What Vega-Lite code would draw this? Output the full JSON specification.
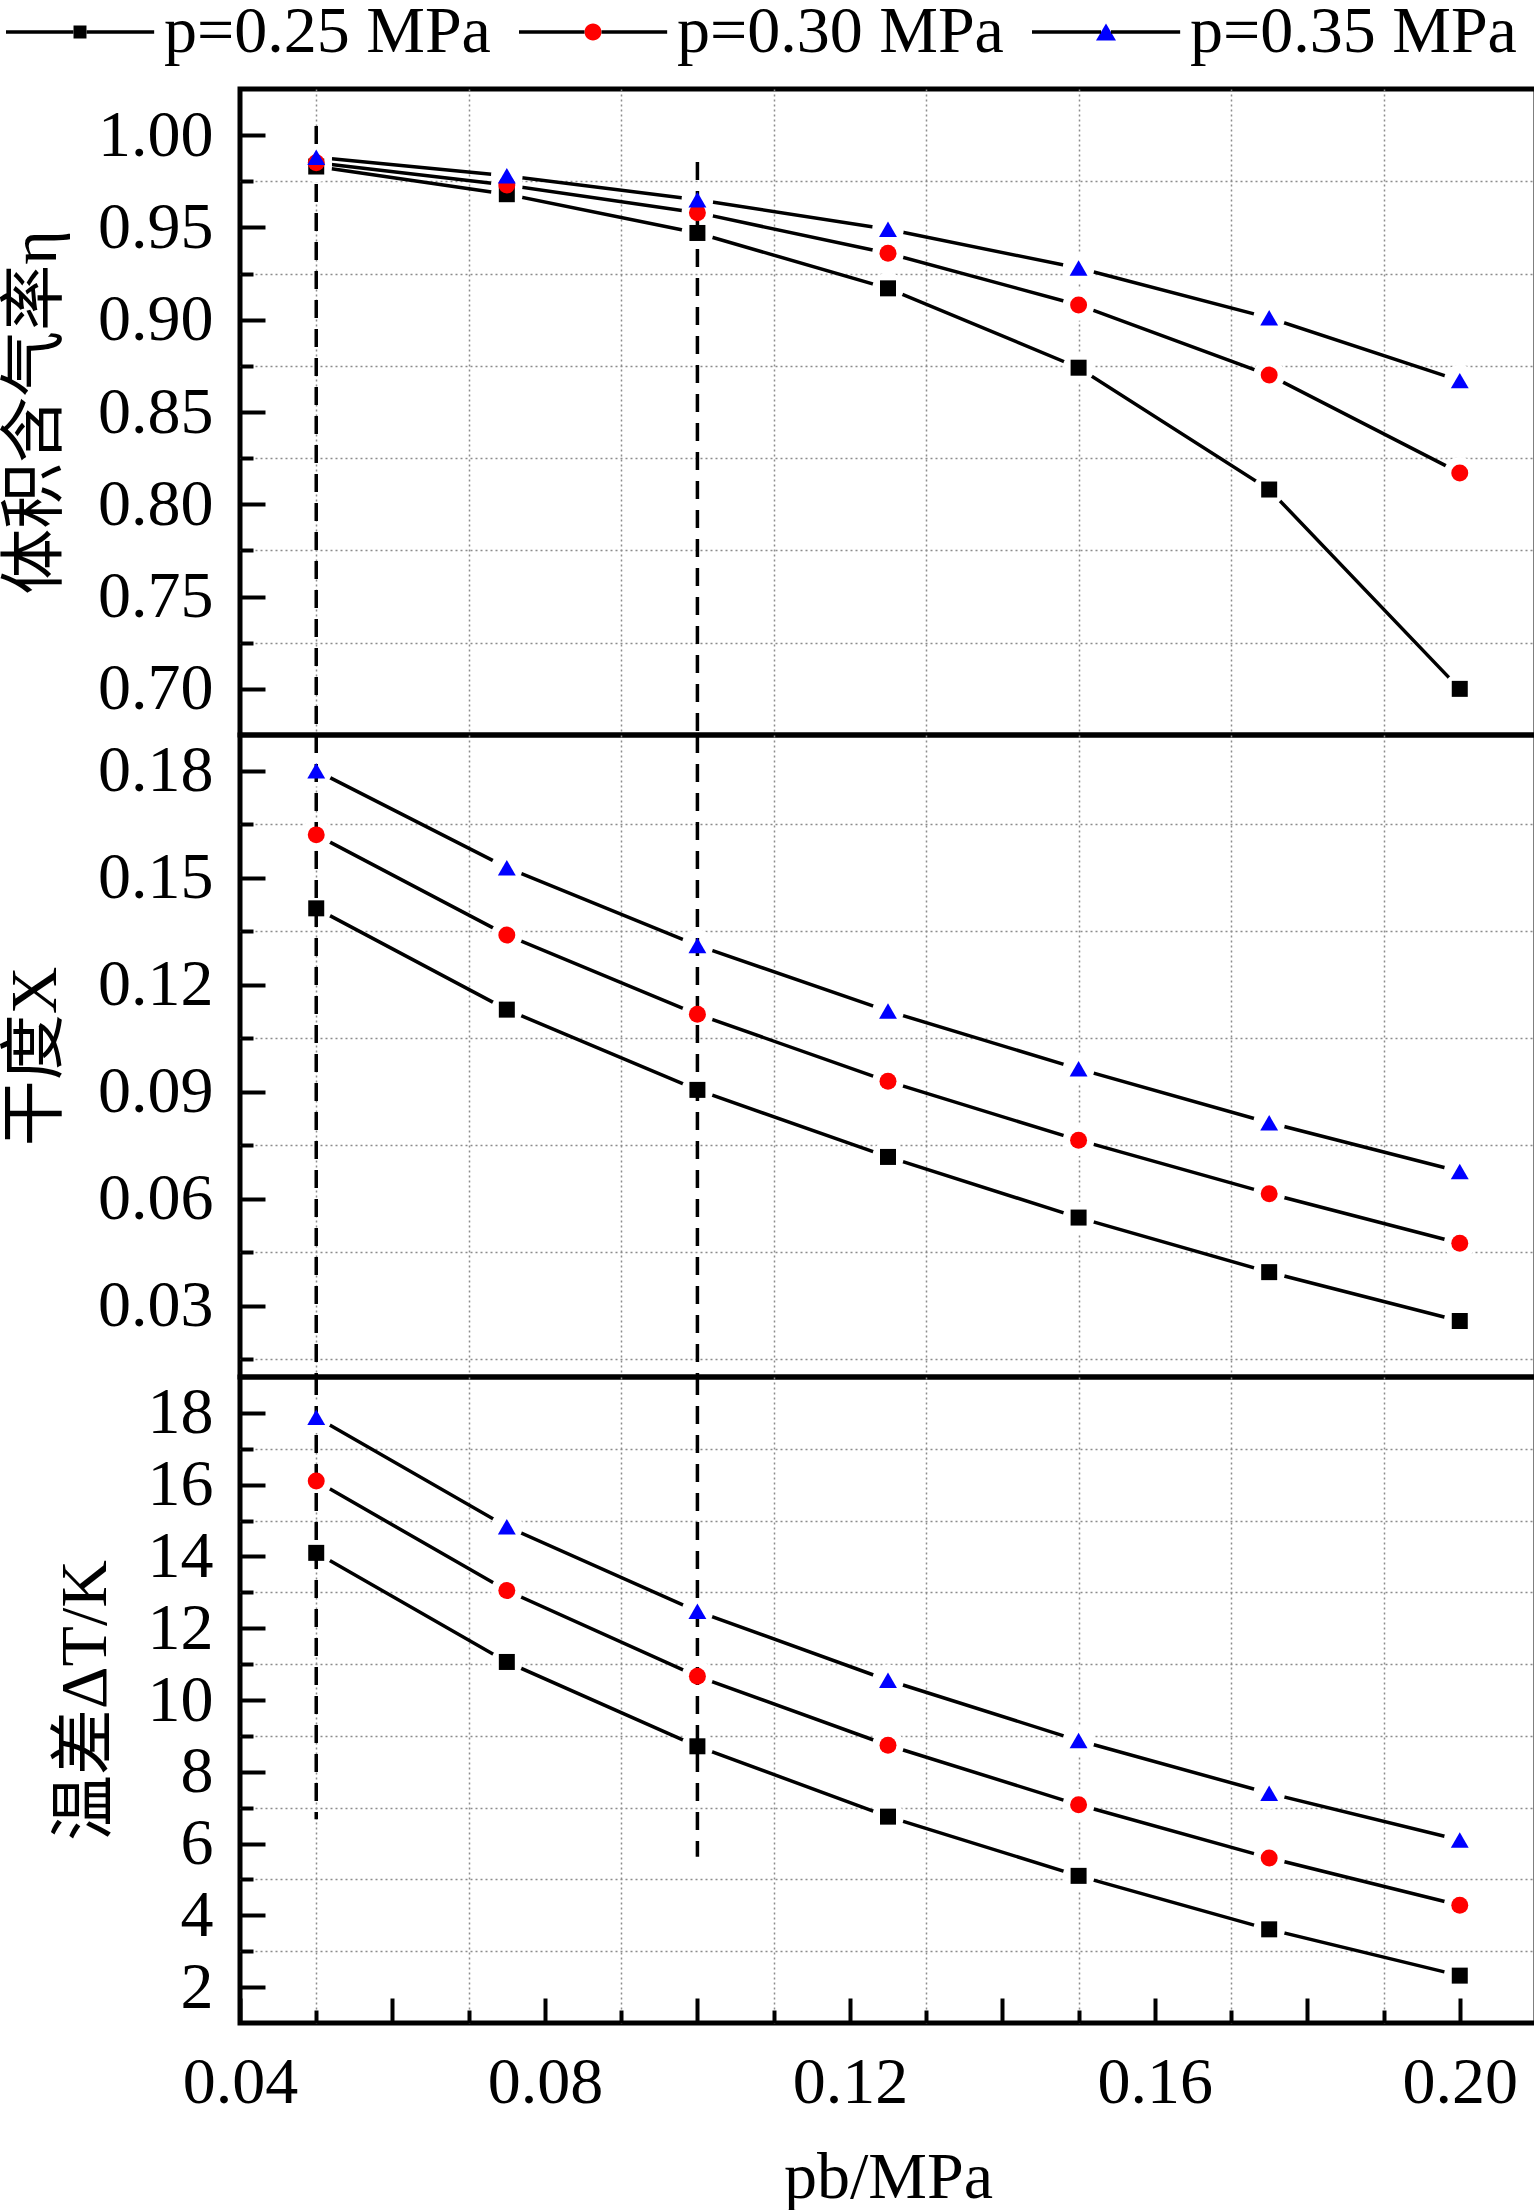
{
  "$schema": "https://vega.github.io/schema/vega-lite/v6.json",
  "padding": 0,
  "background": "white",
  "bounds": "flush",
  "spacing": 0,
  "datasets": {
    "points": [
      {"pb": 0.05, "series": "p=0.25 MPa", "eta": 0.983, "X": 0.1414, "dT": 14.1},
      {"pb": 0.075, "series": "p=0.25 MPa", "eta": 0.968, "X": 0.113, "dT": 11.06},
      {"pb": 0.1, "series": "p=0.25 MPa", "eta": 0.947, "X": 0.0905, "dT": 8.71},
      {"pb": 0.125, "series": "p=0.25 MPa", "eta": 0.917, "X": 0.0717, "dT": 6.75},
      {"pb": 0.15, "series": "p=0.25 MPa", "eta": 0.874, "X": 0.0547, "dT": 5.1},
      {"pb": 0.175, "series": "p=0.25 MPa", "eta": 0.808, "X": 0.0394, "dT": 3.61},
      {"pb": 0.2, "series": "p=0.25 MPa", "eta": 0.7, "X": 0.0257, "dT": 2.32},
      {"pb": 0.05, "series": "p=0.30 MPa", "eta": 0.985, "X": 0.162, "dT": 16.1},
      {"pb": 0.075, "series": "p=0.30 MPa", "eta": 0.973, "X": 0.1339, "dT": 13.05},
      {"pb": 0.1, "series": "p=0.30 MPa", "eta": 0.958, "X": 0.1117, "dT": 10.66},
      {"pb": 0.125, "series": "p=0.30 MPa", "eta": 0.936, "X": 0.0929, "dT": 8.74},
      {"pb": 0.15, "series": "p=0.30 MPa", "eta": 0.908, "X": 0.0764, "dT": 7.08},
      {"pb": 0.175, "series": "p=0.30 MPa", "eta": 0.87, "X": 0.0614, "dT": 5.6},
      {"pb": 0.2, "series": "p=0.30 MPa", "eta": 0.817, "X": 0.0475, "dT": 4.28},
      {"pb": 0.05, "series": "p=0.35 MPa", "eta": 0.988, "X": 0.18, "dT": 17.88},
      {"pb": 0.075, "series": "p=0.35 MPa", "eta": 0.978, "X": 0.1528, "dT": 14.83},
      {"pb": 0.1, "series": "p=0.35 MPa", "eta": 0.965, "X": 0.131, "dT": 12.47},
      {"pb": 0.125, "series": "p=0.35 MPa", "eta": 0.949, "X": 0.1126, "dT": 10.55},
      {"pb": 0.15, "series": "p=0.35 MPa", "eta": 0.928, "X": 0.0964, "dT": 8.87},
      {"pb": 0.175, "series": "p=0.35 MPa", "eta": 0.901, "X": 0.0813, "dT": 7.4},
      {"pb": 0.2, "series": "p=0.35 MPa", "eta": 0.867, "X": 0.0676, "dT": 6.1}
    ],
    "rules1": [
      {"pb": 0.05, "top": 1.005, "bottom": 0.675},
      {"pb": 0.1, "top": 0.9855, "bottom": 0.675}
    ],
    "rules2": [
      {"pb": 0.05},
      {"pb": 0.1}
    ],
    "rules3": [
      {"pb": 0.05, "top": 19, "bottom": 6.68},
      {"pb": 0.1, "top": 19, "bottom": 5.63}
    ]
  },
  "vconcat": [
    {
      "width": 1296,
      "height": 646,
      "data": {"name": "points"},
      "layer": [
        {
          "mark": {"type": "line", "strokeWidth": 3.5},
          "encoding": {
            "x": {"field": "pb", "type": "quantitative", "scale": {"domain": [0.04, 0.21], "nice": false, "zero": false}, "axis": null},
            "y": {
              "field": "eta", "type": "quantitative",
              "scale": {"domain": [0.675, 1.025], "nice": false, "zero": false},
              "axis": {"orient": "left", "values": [0.7, 0.75, 0.8, 0.85, 0.9, 0.95, 1.0], "format": ".2f", "tickSize": -25, "labelPadding": 52, "title": "体积含气率η", "titlePadding": 28}
            },
            "stroke": {
              "field": "series", "type": "nominal",
              "scale": {"range": ["black", "black", "black"]},
              "legend": {
                "orient": "none", "legendX": -234, "legendY": -89, "direction": "horizontal",
                "title": null, "symbolSize": 20736, "symbolStrokeWidth": 3.5,
                "labelOffset": 10, "columnPadding": 28, "clipHeight": 64,
                "encode": {"symbols": {"update": {
                  "opacity": {"value": 1},
                  "stroke": {"value": "black"},
                  "strokeWidth": {"value": 3.5},
                  "strokeDash": {"value": [200, 70]},
                  "strokeDashOffset": {"value": 200},
                  "fill": {"signal": "datum.value === 'p=0.25 MPa' ? '#000000' : datum.value === 'p=0.30 MPa' ? '#ff0000' : '#0000ff'"},
                  "shape": {"signal": "datum.value === 'p=0.25 MPa' ? 'M-0.09,0L0.396,0L-0.09,0L-1.03,0M0.09,0L-0.396,0L0.09,0L1.03,0M-0.09,-0.09L0.09,-0.09L0.09,0.09L-0.09,0.09Z' : datum.value === 'p=0.30 MPa' ? 'M-0.118,0L0.368,0L-0.118,0L-1.03,0M0.118,0L-0.368,0L0.118,0L1.03,0M0.118,0A0.118,0.118,0,1,1,-0.118,0A0.118,0.118,0,1,1,0.118,0Z' : 'M-0.069,0L0.417,0L-0.069,0L-1.03,0M0.069,0L-0.417,0L0.069,0L1.03,0M0,-0.118L0.139,0.118L-0.139,0.118Z'"}
                }}}
              }
            }
          }
        },
        {
          "mark": {"type": "point", "filled": true, "shape": "circle", "size": 1000, "color": "white", "opacity": 1},
          "encoding": {
            "x": {
              "field": "pb", "type": "quantitative", "scale": {"domain": [0.04, 0.21], "nice": false, "zero": false},
              "axis": {"orient": "bottom", "values": [0.05, 0.07, 0.09, 0.11, 0.13, 0.15, 0.17, 0.19], "grid": true, "ticks": false, "labels": false, "title": null}
            },
            "y": {
              "field": "eta", "type": "quantitative", "scale": {"domain": [0.675, 1.025], "nice": false, "zero": false},
              "axis": {"orient": "left", "values": [0.725, 0.775, 0.825, 0.875, 0.925, 0.975], "grid": true, "labels": false, "tickSize": -13, "title": null}
            }
          }
        },
        {
          "data": {"name": "rules1"},
          "mark": {"type": "rule", "strokeDash": [18, 11], "strokeWidth": 3.5, "color": "black"},
          "encoding": {
            "x": {"field": "pb", "type": "quantitative", "scale": {"domain": [0.04, 0.21], "nice": false, "zero": false}, "axis": null},
            "y": {"field": "top", "type": "quantitative", "scale": {"domain": [0.675, 1.025], "nice": false, "zero": false}, "axis": null},
            "y2": {"field": "bottom"}
          }
        },
        {
          "mark": {"type": "point", "filled": true, "opacity": 1, "strokeWidth": 0},
          "encoding": {
            "x": {"field": "pb", "type": "quantitative", "scale": {"domain": [0.04, 0.21], "nice": false, "zero": false}, "axis": null},
            "y": {"field": "eta", "type": "quantitative", "scale": {"domain": [0.675, 1.025], "nice": false, "zero": false}, "axis": null},
            "fill": {
              "field": "series", "type": "nominal",
              "scale": {"domain": ["p=0.25 MPa", "p=0.30 MPa", "p=0.35 MPa"], "range": ["black", "#ff0000", "#0000ff"]},
              "legend": {
                "orient": "none", "legendX": -234, "legendY": -89, "direction": "horizontal",
                "title": null, "symbolSize": 20736, "symbolStrokeWidth": 3.5,
                "labelOffset": 10, "columnPadding": 28, "clipHeight": 64,
                "encode": {"symbols": {"update": {
                  "opacity": {"value": 1},
                  "stroke": {"value": "black"},
                  "strokeWidth": {"value": 3.5},
                  "strokeDash": {"value": [200, 70]},
                  "strokeDashOffset": {"value": 200},
                  "fill": {"signal": "datum.value === 'p=0.25 MPa' ? '#000000' : datum.value === 'p=0.30 MPa' ? '#ff0000' : '#0000ff'"},
                  "shape": {"signal": "datum.value === 'p=0.25 MPa' ? 'M-0.09,0L0.396,0L-0.09,0L-1.03,0M0.09,0L-0.396,0L0.09,0L1.03,0M-0.09,-0.09L0.09,-0.09L0.09,0.09L-0.09,0.09Z' : datum.value === 'p=0.30 MPa' ? 'M-0.118,0L0.368,0L-0.118,0L-1.03,0M0.118,0L-0.368,0L0.118,0L1.03,0M0.118,0A0.118,0.118,0,1,1,-0.118,0A0.118,0.118,0,1,1,0.118,0Z' : 'M-0.069,0L0.417,0L-0.069,0L-1.03,0M0.069,0L-0.417,0L0.069,0L1.03,0M0,-0.118L0.139,0.118L-0.139,0.118Z'"}
                }}}
              }
            },
            "shape": {
              "field": "series", "type": "nominal",
              "scale": {"domain": ["p=0.25 MPa", "p=0.30 MPa", "p=0.35 MPa"], "range": ["square", "circle", "triangle-up"]},
              "legend": {
                "orient": "none", "legendX": -234, "legendY": -89, "direction": "horizontal",
                "title": null, "symbolSize": 20736, "symbolStrokeWidth": 3.5,
                "labelOffset": 10, "columnPadding": 28, "clipHeight": 64
              }
            },
            "size": {
              "field": "series", "type": "nominal",
              "scale": {"domain": ["p=0.25 MPa", "p=0.30 MPa", "p=0.35 MPa"], "range": [256, 320, 560]},
              "legend": null
            }
          }
        }
      ],
      "resolve": {"axis": {"x": "independent", "y": "independent"}}
    },
    {
      "width": 1296,
      "height": 642,
      "data": {"name": "points"},
      "layer": [
        {
          "mark": {"type": "line", "strokeWidth": 3.5},
          "encoding": {
            "x": {"field": "pb", "type": "quantitative", "scale": {"domain": [0.04, 0.21], "nice": false, "zero": false}, "axis": null},
            "y": {
              "field": "X", "type": "quantitative",
              "scale": {"domain": [0.01, 0.19], "nice": false, "zero": false},
              "axis": {"orient": "left", "values": [0.03, 0.06, 0.09, 0.12, 0.15, 0.18], "format": ".2f", "tickSize": -25, "labelPadding": 52, "title": "干度X", "titlePadding": 28}
            },
            "stroke": {"field": "series", "type": "nominal", "scale": {"range": ["black", "black", "black"]}, "legend": null}
          }
        },
        {
          "mark": {"type": "point", "filled": true, "shape": "circle", "size": 1000, "color": "white", "opacity": 1},
          "encoding": {
            "x": {
              "field": "pb", "type": "quantitative", "scale": {"domain": [0.04, 0.21], "nice": false, "zero": false},
              "axis": {"orient": "bottom", "values": [0.05, 0.07, 0.09, 0.11, 0.13, 0.15, 0.17, 0.19], "grid": true, "ticks": false, "labels": false, "title": null}
            },
            "y": {
              "field": "X", "type": "quantitative", "scale": {"domain": [0.01, 0.19], "nice": false, "zero": false},
              "axis": {"orient": "left", "values": [0.015, 0.045, 0.075, 0.105, 0.135, 0.165], "grid": true, "labels": false, "tickSize": -13, "title": null}
            }
          }
        },
        {
          "data": {"name": "rules2"},
          "mark": {"type": "rule", "strokeDash": [18, 11], "strokeWidth": 3.5, "color": "black"},
          "encoding": {
            "x": {"field": "pb", "type": "quantitative", "scale": {"domain": [0.04, 0.21], "nice": false, "zero": false}, "axis": null}
          }
        },
        {
          "mark": {"type": "point", "filled": true, "opacity": 1, "strokeWidth": 0},
          "encoding": {
            "x": {"field": "pb", "type": "quantitative", "scale": {"domain": [0.04, 0.21], "nice": false, "zero": false}, "axis": null},
            "y": {"field": "X", "type": "quantitative", "scale": {"domain": [0.01, 0.19], "nice": false, "zero": false}, "axis": null},
            "fill": {"field": "series", "type": "nominal", "scale": {"domain": ["p=0.25 MPa", "p=0.30 MPa", "p=0.35 MPa"], "range": ["black", "#ff0000", "#0000ff"]}, "legend": null},
            "shape": {"field": "series", "type": "nominal", "scale": {"domain": ["p=0.25 MPa", "p=0.30 MPa", "p=0.35 MPa"], "range": ["square", "circle", "triangle-up"]}, "legend": null},
            "size": {"field": "series", "type": "nominal", "scale": {"domain": ["p=0.25 MPa", "p=0.30 MPa", "p=0.35 MPa"], "range": [256, 320, 560]}, "legend": null}
          }
        }
      ],
      "resolve": {"axis": {"x": "independent", "y": "independent"}}
    },
    {
      "width": 1296,
      "height": 646,
      "data": {"name": "points"},
      "layer": [
        {
          "mark": {"type": "line", "strokeWidth": 3.5},
          "encoding": {
            "x": {
              "field": "pb", "type": "quantitative", "scale": {"domain": [0.04, 0.21], "nice": false, "zero": false},
              "axis": {"orient": "bottom", "values": [0.04, 0.06, 0.08, 0.1, 0.12, 0.14, 0.16, 0.18, 0.2], "labelExpr": "round(datum.value * 100) % 4 === 0 ? format(datum.value, '.2f') : ''", "tickSize": -25, "labelPadding": 52, "title": "pb/MPa", "titlePadding": 30}
            },
            "y": {
              "field": "dT", "type": "quantitative",
              "scale": {"domain": [1, 19], "nice": false, "zero": false},
              "axis": {"orient": "left", "values": [2, 4, 6, 8, 10, 12, 14, 16, 18], "format": "d", "tickSize": -25, "labelPadding": 52, "title": "温差ΔT/K", "titlePadding": 28}
            },
            "stroke": {"field": "series", "type": "nominal", "scale": {"range": ["black", "black", "black"]}, "legend": null}
          }
        },
        {
          "mark": {"type": "point", "filled": true, "shape": "circle", "size": 1000, "color": "white", "opacity": 1},
          "encoding": {
            "x": {
              "field": "pb", "type": "quantitative", "scale": {"domain": [0.04, 0.21], "nice": false, "zero": false},
              "axis": {"orient": "bottom", "values": [0.05, 0.07, 0.09, 0.11, 0.13, 0.15, 0.17, 0.19], "grid": true, "labels": false, "tickSize": -13, "title": null}
            },
            "y": {
              "field": "dT", "type": "quantitative", "scale": {"domain": [1, 19], "nice": false, "zero": false},
              "axis": {"orient": "left", "values": [3, 5, 7, 9, 11, 13, 15, 17], "grid": true, "labels": false, "tickSize": -13, "title": null}
            }
          }
        },
        {
          "data": {"name": "rules3"},
          "mark": {"type": "rule", "strokeDash": [18, 11], "strokeWidth": 3.5, "color": "black"},
          "encoding": {
            "x": {"field": "pb", "type": "quantitative", "scale": {"domain": [0.04, 0.21], "nice": false, "zero": false}, "axis": null},
            "y": {"field": "top", "type": "quantitative", "scale": {"domain": [1, 19], "nice": false, "zero": false}, "axis": null},
            "y2": {"field": "bottom"}
          }
        },
        {
          "mark": {"type": "point", "filled": true, "opacity": 1, "strokeWidth": 0},
          "encoding": {
            "x": {"field": "pb", "type": "quantitative", "scale": {"domain": [0.04, 0.21], "nice": false, "zero": false}, "axis": null},
            "y": {"field": "dT", "type": "quantitative", "scale": {"domain": [1, 19], "nice": false, "zero": false}, "axis": null},
            "fill": {"field": "series", "type": "nominal", "scale": {"domain": ["p=0.25 MPa", "p=0.30 MPa", "p=0.35 MPa"], "range": ["black", "#ff0000", "#0000ff"]}, "legend": null},
            "shape": {"field": "series", "type": "nominal", "scale": {"domain": ["p=0.25 MPa", "p=0.30 MPa", "p=0.35 MPa"], "range": ["square", "circle", "triangle-up"]}, "legend": null},
            "size": {"field": "series", "type": "nominal", "scale": {"domain": ["p=0.25 MPa", "p=0.30 MPa", "p=0.35 MPa"], "range": [256, 320, 560]}, "legend": null}
          }
        }
      ],
      "resolve": {"axis": {"x": "independent", "y": "independent"}}
    }
  ],
  "config": {
    "font": "Liberation Serif, Noto Sans CJK SC",
    "view": {"stroke": "black", "strokeWidth": 5},
    "axis": {
      "domain": false,
      "grid": false,
      "tickColor": "black",
      "tickWidth": 4,
      "labelFont": "Liberation Serif, Noto Sans CJK SC",
      "labelFontSize": 66,
      "labelColor": "black",
      "labelFlush": false,
      "labelOverlap": false,
      "titleFont": "Liberation Serif, Noto Sans CJK SC",
      "titleFontSize": 66,
      "titleFontWeight": "normal",
      "titleColor": "black",
      "gridColor": "#8c8c8c",
      "gridDash": [2, 3],
      "gridWidth": 1.5
    },
    "legend": {
      "labelFont": "Liberation Serif, Noto Sans CJK SC",
      "labelFontSize": 66,
      "labelColor": "black",
      "labelLimit": 800,
      "padding": 0
    }
  }
}
